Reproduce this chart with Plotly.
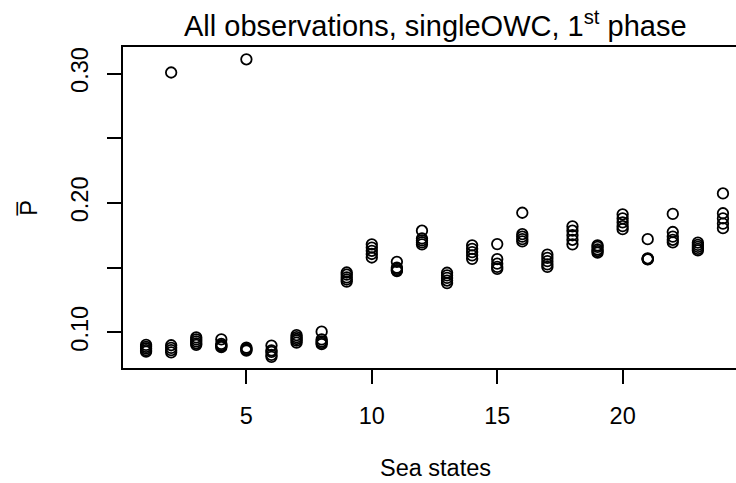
import plotly.graph_objects as go

# Sea state index for each group of observations
sea_states = list(range(1, 25))

# Mean power observed in each sea state (five runs per sea state)
p_mean = [
    [0.0902, 0.0888, 0.0875, 0.0862, 0.0850],
    [0.0900, 0.0880, 0.0862, 0.0845, 0.3008],
    [0.0960, 0.0945, 0.0930, 0.0915, 0.0903],
    [0.0945, 0.0910, 0.0900, 0.0893, 0.0885],
    [0.0882, 0.0872, 0.0865, 0.0858, 0.3110],
    [0.0897, 0.0860, 0.0848, 0.0825, 0.0810],
    [0.0978, 0.0962, 0.0948, 0.0935, 0.0920],
    [0.1005, 0.0945, 0.0930, 0.0918, 0.0908],
    [0.1462, 0.1445, 0.1425, 0.1408, 0.1392],
    [0.1680, 0.1655, 0.1630, 0.1605, 0.1578],
    [0.1545, 0.1500, 0.1490, 0.1480, 0.1473],
    [0.1785, 0.1725, 0.1710, 0.1695, 0.1680],
    [0.1460, 0.1440, 0.1420, 0.1400, 0.1380],
    [0.1672, 0.1645, 0.1620, 0.1595, 0.1568],
    [0.1682, 0.1565, 0.1530, 0.1505, 0.1490],
    [0.1924, 0.1758, 0.1740, 0.1720, 0.1702],
    [0.1600, 0.1575, 0.1550, 0.1525, 0.1505],
    [0.1818, 0.1785, 0.1750, 0.1715, 0.1680],
    [0.1672, 0.1660, 0.1640, 0.1628, 0.1615],
    [0.1912, 0.1880, 0.1850, 0.1820, 0.1797],
    [0.1720, 0.1572, 0.1568, 0.1566, 0.1563],
    [0.1915, 0.1775, 0.1740, 0.1715, 0.1695],
    [0.1693, 0.1675, 0.1660, 0.1645, 0.1633],
    [0.2073, 0.1920, 0.1880, 0.1840, 0.1805],
]

x_ticks = [5, 10, 15, 20]
y_ticks = [0.10, 0.15, 0.20, 0.25, 0.30]
y_tick_labels = ["0.10", "", "0.20", "", "0.30"]

xs, ys = [], []
for s, vals in zip(sea_states, p_mean):
    for v in vals:
        xs.append(s)
        ys.append(v)

FONT = "Liberation Sans, Arial, Helvetica, sans-serif"
BASE = 23.5

fig = go.Figure()
fig.add_trace(go.Scatter(
    x=xs, y=ys, mode="markers",
    marker=dict(symbol="circle-open", size=10.5, color="black",
                line=dict(color="black", width=1.8)),
    showlegend=False, hoverinfo="x+y",
))

fig.update_layout(
    width=736, height=483,
    margin=dict(l=123, r=0, t=47, b=115),
    paper_bgcolor="white", plot_bgcolor="white",
    font=dict(family=FONT, size=BASE, color="black"),
    xaxis=dict(
        range=[0.08, 24.52], tickvals=x_ticks,
        ticks="outside", ticklen=14, tickwidth=1.8, tickcolor="black",
        ticklabelstandoff=12,
        showline=True, mirror=True, linecolor="black", linewidth=1.8,
        showgrid=False, zeroline=False,
        tickfont=dict(family=FONT, size=BASE),
    ),
    yaxis=dict(
        range=[0.0724, 0.3205], tickvals=y_ticks, ticktext=y_tick_labels,
        ticks="outside", ticklen=14, tickwidth=1.8, tickcolor="black",
        ticklabelstandoff=10,
        showline=True, mirror=False, linecolor="black", linewidth=1.8,
        showgrid=False, zeroline=False, tickangle=-90,
        tickfont=dict(family=FONT, size=BASE),
    ),
    annotations=[
        dict(text="All observations, singleOWC, 1<sup>st</sup> phase",
             xref="paper", yref="paper", x=0.509, y=1.073,
             xanchor="center", yanchor="middle", showarrow=False,
             font=dict(family=FONT, size=29)),
        dict(text="Sea states", xref="paper", yref="paper",
             x=0.509, y=-0.31, xanchor="center", yanchor="middle",
             showarrow=False, font=dict(family=FONT, size=BASE)),
        dict(text="P\u0305", xref="paper", yref="paper",
             x=-0.1544, y=0.5, xanchor="center", yanchor="middle",
             textangle=-90, showarrow=False, font=dict(family=FONT, size=BASE)),
    ],
)

fig.write_html("out.html")
